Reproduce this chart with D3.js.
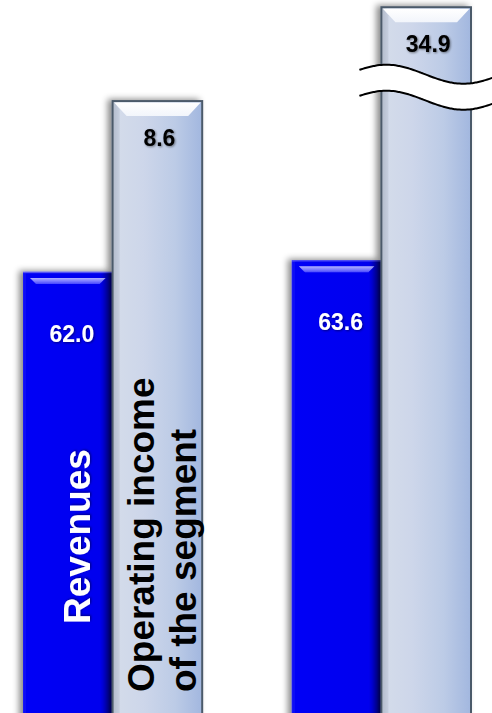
<!DOCTYPE html>
<html>
<head>
<meta charset="utf-8">
<script src="https://cdn.jsdelivr.net/npm/d3@7"></script>
<style>
  html, body { margin: 0; padding: 0; background: #fff; overflow: hidden; }
  svg { display: block; }
  text { font-family: Arial, "Liberation Sans", sans-serif; font-weight: bold; }
</style>
</head>
<body>
<svg id="chart" width="492" height="713"></svg>
<script>
// Two periods, each with revenues and the segment's operating income
const periods = ["prior", "current"];
const seriesKeys = ["revenues", "operatingIncome"];
const revenues = [62.0, 63.6];
const operatingIncome = [8.6, 34.9];
const seriesLabels = [["Revenues"], ["Operating income", "of the segment"]];
// operating income bars taller than this are cut with a break symbol
const operatingIncomeCap = 9.9;

const width = 492, height = 713, baseline = 722;
const svg = d3.select("#chart");
const defs = svg.append("defs");

// ---- scales
const x0 = d3.scaleBand().domain(periods).range([23, 471]).paddingInner(1 / 3).paddingOuter(0);
const x1 = d3.scaleBand().domain(seriesKeys).range([0, x0.bandwidth()]);
const yRev = d3.scaleLinear().domain([0, 100]).range([baseline, -4]);
const yOp = d3.scaleLinear().domain([0, 10]).range([baseline, 0]);

// ---- paints
function linearGradient(id, stops, vertical) {
  const g = defs.append("linearGradient").attr("id", id)
    .attr("x1", 0).attr("y1", 0).attr("x2", vertical ? 0 : 1).attr("y2", vertical ? 1 : 0);
  stops.forEach(([o, c, a]) => g.append("stop").attr("offset", o).attr("stop-color", c).attr("stop-opacity", a == null ? 1 : a));
}
linearGradient("blueBody", [[0, "#1a1af6"], [0.05, "#0000f6"], [0.86, "#0000ee"], [0.95, "#0000b4"], [1, "#00006e"]]);
linearGradient("blueHighlight", [[0, "#b4b4ff"], [1, "#4a4aff"]], true);
linearGradient("lightBody", [[0, "#b7c0cf"], [0.07, "#d3dbea"], [0.35, "#cdd6ea"], [0.7, "#bccbe6"], [1, "#a2b7df"]]);
linearGradient("lightBevel", [[0, "#ffffff"], [1, "#f2f5fb"]], true);

const shadow = defs.append("filter").attr("id", "barShadow")
  .attr("x", "-30%").attr("y", "-10%").attr("width", "160%").attr("height", "130%");
shadow.append("feDropShadow").attr("dx", -4).attr("dy", -1).attr("stdDeviation", 3.2)
  .attr("flood-color", "#000").attr("flood-opacity", 0.45);

const textShadow = defs.append("filter").attr("id", "textShadow")
  .attr("x", "-20%").attr("y", "-20%").attr("width", "140%").attr("height", "140%");
textShadow.append("feDropShadow").attr("dx", 1).attr("dy", 1).attr("stdDeviation", 0.8)
  .attr("flood-color", "#000").attr("flood-opacity", 0.45);

// ---- rows of data
const rows = periods.map((p, i) => ({ period: p, revenues: revenues[i], operatingIncome: operatingIncome[i] }));

const groups = svg.selectAll("g.period").data(rows).join("g")
  .attr("class", "period")
  .attr("transform", d => `translate(${x0(d.period)},0)`);

// revenues bars (drawn first so the lighter bar's shadow falls over them)
groups.each(function (d) {
  const g = d3.select(this);
  const bx = x1("revenues"), bw = x1.bandwidth();
  const top = yRev(d.revenues);
  const bar = g.append("g").attr("filter", "url(#barShadow)");
  bar.append("rect").attr("x", bx).attr("y", top).attr("width", bw).attr("height", baseline - top)
    .attr("fill", "url(#blueBody)");
  bar.append("rect").attr("x", bx).attr("y", top).attr("width", bw).attr("height", 1.2)
    .attr("fill", "#5656f4");
  bar.append("polygon")
    .attr("points", [[bx + 7, top + 6], [bx + bw - 7, top + 6], [bx + bw - 13, top + 12], [bx + 13, top + 12]].join(" "))
    .attr("fill", "url(#blueHighlight)");
  g.append("text")
    .attr("x", bx + bw / 2 + 4).attr("y", top + 70)
    .attr("text-anchor", "middle").attr("font-size", 23).attr("fill", "#fff")
    .attr("filter", "url(#textShadow)")
    .text(d.revenues.toFixed(1));
});

// operating income bars
groups.each(function (d) {
  const g = d3.select(this);
  const bx = x1("operatingIncome"), bw = x1.bandwidth();
  const broken = d.operatingIncome > operatingIncomeCap;
  const top = yOp(Math.min(d.operatingIncome, operatingIncomeCap));
  const bar = g.append("g").attr("filter", "url(#barShadow)");
  bar.append("rect").attr("x", bx).attr("y", top).attr("width", bw).attr("height", baseline - top)
    .attr("fill", "url(#lightBody)").attr("stroke", "#4c5a6a").attr("stroke-width", 2);
  bar.append("polygon")
    .attr("points", [[bx + 1.5, top + 1.5], [bx + 1.5, baseline], [bx + 7, baseline], [bx + 7, top + 8]].join(" "))
    .attr("fill", "#aab3c3").attr("opacity", 0.35);
  bar.append("polygon")
    .attr("points", [[bx + 1.5, top + 1.5], [bx + bw - 1.5, top + 1.5], [bx + bw - 14, top + 15], [bx + 14, top + 15]].join(" "))
    .attr("fill", "url(#lightBevel)");
  g.append("text")
    .attr("x", bx + bw / 2 + 2).attr("y", top + 45)
    .attr("text-anchor", "middle").attr("font-size", 23).attr("fill", "#000")
    .attr("filter", "url(#textShadow)")
    .text(d.operatingIncome.toFixed(1));

  if (broken) {
    // wavy axis-break band across the cut bar
    const xs = d3.range(bx - 22, bx + bw + 24, 2);
    const wave = x => -9.5 * Math.cos(2 * Math.PI * (x - (bx + 5)) / 154);
    const upper = top + 67, gap = 26;
    g.append("path")
      .datum(xs)
      .attr("d", d3.area().x(x => x).y0(x => upper + wave(x)).y1(x => upper + gap + wave(x)).curve(d3.curveBasis))
      .attr("fill", "#fff");
    [0, gap].forEach(off => {
      g.append("path")
        .datum(xs)
        .attr("d", d3.line().x(x => x).y(x => upper + off + wave(x)).curve(d3.curveBasis))
        .attr("fill", "none").attr("stroke", "#000").attr("stroke-width", 2);
    });
  }
});

// rotated series names inside the first period's bars
const labelLayout = { revenues: { dx: 67, y: 624, fill: "#fff" }, operatingIncome: { dx: 41, y: 692, fill: "#000" } };
const firstX = x0(periods[0]);
seriesKeys.forEach((key, si) => {
  const L = labelLayout[key];
  seriesLabels[si].forEach((line, li) => {
    const bx = firstX + x1(key) + L.dx + li * 42;
    svg.append("text")
      .attr("transform", `translate(${bx},${L.y}) rotate(-90)`)
      .attr("font-size", 37).attr("fill", L.fill)
      .attr("filter", key === "revenues" ? "url(#textShadow)" : null)
      .text(line);
  });
});
</script>
</body>
</html>
